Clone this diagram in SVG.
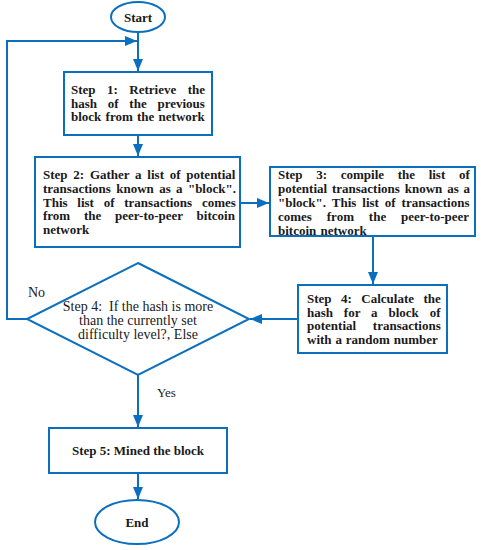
<svg xmlns="http://www.w3.org/2000/svg" width="481" height="550" viewBox="0 0 481 550">
<defs>
<style>
.shape{fill:#fff;stroke:#0B6FBF;stroke-width:2}
.line{fill:none;stroke:#0B6FBF;stroke-width:2}
.t{font-family:"Liberation Serif","Times New Roman",serif;font-size:13px;font-weight:bold;fill:#1a1a1a}
.r{font-family:"Liberation Serif","Times New Roman",serif;font-size:14px;fill:#1a1a1a}
</style>
<marker id="ah" markerUnits="userSpaceOnUse" markerWidth="13" markerHeight="11" refX="12" refY="5" orient="auto">
<path d="M0,0 L12,5 L0,10 z" fill="#0B6FBF"/>
</marker>
</defs>
<rect width="481" height="550" fill="#fff"/>
<g id="connectors">
<line class="line" x1="138" y1="32" x2="138" y2="71" marker-end="url(#ah)"/>
<polyline class="line" points="27,319 7,319 7,41 137,41" marker-end="url(#ah)"/>
<line class="line" x1="138" y1="135" x2="138" y2="156" marker-end="url(#ah)"/>
<line class="line" x1="240" y1="203" x2="269" y2="203" marker-end="url(#ah)"/>
<line class="line" x1="373" y1="236" x2="373" y2="284" marker-end="url(#ah)"/>
<line class="line" x1="298" y1="319" x2="250" y2="319" marker-end="url(#ah)"/>
<line class="line" x1="138" y1="375" x2="138" y2="427" marker-end="url(#ah)"/>
<line class="line" x1="138" y1="473" x2="138" y2="499" marker-end="url(#ah)"/>
<text class="r" x="28" y="297">No</text>
<text class="r" x="157" y="397" style="font-size:13px">Yes</text>
</g>
<g id="start">
<ellipse class="shape" cx="138" cy="17" rx="27" ry="15"/>
<text class="t" x="138" y="22" text-anchor="middle">Start</text>
</g>
<g id="step1">
<rect class="shape" x="64" y="72" width="148" height="63"/>
<text class="t" x="71" y="94" word-spacing="8.2">Step 1: Retrieve the</text>
<text class="t" x="71" y="107.5" word-spacing="7.5">hash of the previous</text>
<text class="t" x="71" y="121" word-spacing="1">block from the network</text>
</g>
<g id="step2">
<rect class="shape" x="35" y="157" width="205" height="90"/>
<text class="t" x="43" y="179" word-spacing="2.5">Step 2: Gather a list of potential</text>
<text class="t" x="43" y="192.8" word-spacing="2.1">transactions known as a "block".</text>
<text class="t" x="43" y="206.6" word-spacing="6.5">This list of transactions comes</text>
<text class="t" x="43" y="220.4" word-spacing="10.5">from the peer-to-peer bitcoin</text>
<text class="t" x="43" y="234.2">network</text>
</g>
<g id="step3">
<rect class="shape" x="270" y="167" width="205" height="69"/>
<text class="t" x="278" y="179" word-spacing="10.4">Step 3: compile the list of</text>
<text class="t" x="278" y="193" word-spacing="1.6">potential transactions known as a</text>
<text class="t" x="278" y="207" word-spacing="2.7">"block". This list of transactions</text>
<text class="t" x="278" y="221" word-spacing="11.6">comes from the peer-to-peer</text>
<text class="t" x="278" y="234.5" word-spacing="1">bitcoin network</text>
</g>
<g id="step4calc">
<rect class="shape" x="298" y="285" width="149" height="68"/>
<text class="t" x="307" y="302.5" word-spacing="6.2">Step 4: Calculate the</text>
<text class="t" x="307" y="316.5" word-spacing="7.6">hash for a block of</text>
<text class="t" x="307" y="330" word-spacing="13.5">potential transactions</text>
<text class="t" x="307" y="344" word-spacing="0.6">with a random number</text>
</g>
<g id="decision">
<polygon class="shape" points="138,263 249,319 138,375 27,319"/>
<text class="r" x="138" y="311" text-anchor="middle" style="white-space:pre">Step 4:  If the hash is more</text>
<text class="r" x="138" y="325" text-anchor="middle">than the currently set</text>
<text class="r" x="138" y="339" text-anchor="middle">difficulty level?, Else</text>
</g>
<g id="step5">
<rect class="shape" x="49" y="428" width="178" height="45"/>
<text class="t" x="138" y="455" text-anchor="middle">Step 5: Mined the block</text>
</g>
<g id="end">
<ellipse class="shape" cx="137" cy="522" rx="42" ry="22"/>
<text class="t" x="137" y="527" text-anchor="middle">End</text>
</g>
</svg>
